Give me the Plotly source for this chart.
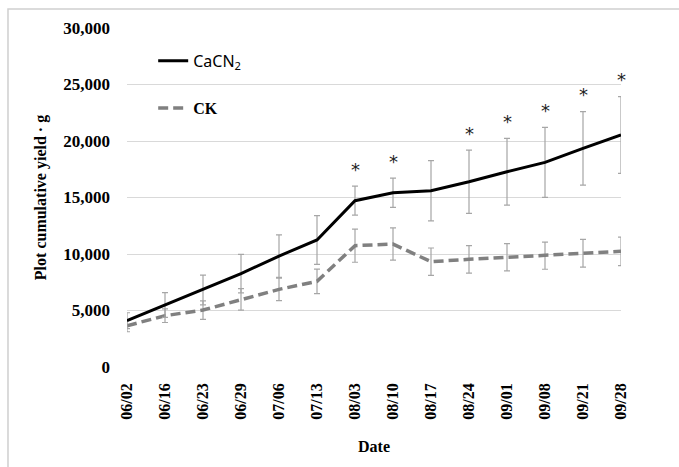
import plotly.graph_objects as go

dates = ["06/02", "06/16", "06/23", "06/29", "07/06", "07/13", "08/03",
         "08/10", "08/17", "08/24", "09/01", "09/08", "09/21", "09/28"]
cacn2 = [4100, 5490, 6810, 8260, 9820, 11240, 14720,
         15420, 15600, 16400, 17280, 18110, 19350, 20530]
cacn2_err = [700, 1100, 1320, 1700, 1880, 2150, 1280,
             1290, 2660, 2800, 2950, 3100, 3250, 3400]
ck = [3650, 4540, 5040, 5990, 6870, 7580, 10740,
      10880, 9320, 9530, 9710, 9850, 10060, 10240]
ck_err = [530, 600, 820, 950, 1000, 1080, 1470,
          1430, 1210, 1220, 1200, 1200, 1230, 1260]
significant = [0, 0, 0, 0, 0, 0, 1, 1, 0, 1, 1, 1, 1, 1]
y_ticks = [0, 5000, 10000, 15000, 20000, 25000, 30000]

serif = "Liberation Serif, Times New Roman, serif"
err_color = "#a6a6a6"

fig = go.Figure()
fig.add_trace(go.Scatter(
    x=dates, y=ck, mode="lines", name="<b>CK</b>",
    line=dict(color="#808080", width=3.5, dash="10px,5px"),
    error_y=dict(type="data", array=ck_err, visible=True,
                 color=err_color, thickness=1.2, width=3),
    legend="legend2",
))
fig.add_trace(go.Scatter(
    x=dates, y=cacn2, mode="lines", name="CaCN<sub>2</sub>",
    line=dict(color="#000000", width=3),
    error_y=dict(type="data", array=cacn2_err, visible=True,
                 color=err_color, thickness=1.2, width=3),
    legend="legend",
))

for d, v, e, s in zip(dates, cacn2, cacn2_err, significant):
    if s:
        fig.add_annotation(x=d, y=v + e, text="*", showarrow=False,
                           yanchor="middle", yshift=17,
                           font=dict(family="DejaVu Sans, sans-serif", size=18, color="#222222"))

# outer frame
fig.add_shape(type="rect", xref="paper", yref="paper",
              x0=-0.2409, x1=1.3, y0=-0.5, y1=1.056,
              line=dict(color="#cfcfcf", width=1.5), layer="below")

fig.update_layout(
    width=679, height=467,
    margin=dict(l=127, r=58, t=28, b=100),
    paper_bgcolor="white", plot_bgcolor="white",
    showlegend=True,
    legend=dict(x=0.053, y=0.903, xanchor="left", yanchor="middle",
                bgcolor="rgba(0,0,0,0)",
                font=dict(family="Noto Sans, sans-serif", size=16, color="#000000")),
    legend2=dict(x=0.053, y=0.764, xanchor="left", yanchor="middle",
                 bgcolor="rgba(0,0,0,0)",
                 font=dict(family=serif, size=16, color="#000000")),
    xaxis=dict(
        type="category", range=[0, 13], showgrid=False, zeroline=False,
        tickangle=-90, ticks="", ticklabelstandoff=12,
        tickfont=dict(family=serif, size=16, color="#000000", weight="bold"),
        title=dict(text="<b>Date</b>", font=dict(family=serif, size=16, color="#000000"),
                   standoff=22),
    ),
    yaxis=dict(
        range=[0, 30000], tickvals=y_ticks, tickformat=",d",
        showgrid=True, gridcolor="#d9d9d9", gridwidth=1, zeroline=False,
        ticks="", ticklabelstandoff=16, showline=False,
        tickfont=dict(family=serif, size=17, color="#000000", weight="bold"),
        title=dict(text="<b>Plot cumulative yield · g</b>",
                   font=dict(family=serif, size=16, color="#000000"), standoff=12),
    ),
)

fig.write_html("out.html")
